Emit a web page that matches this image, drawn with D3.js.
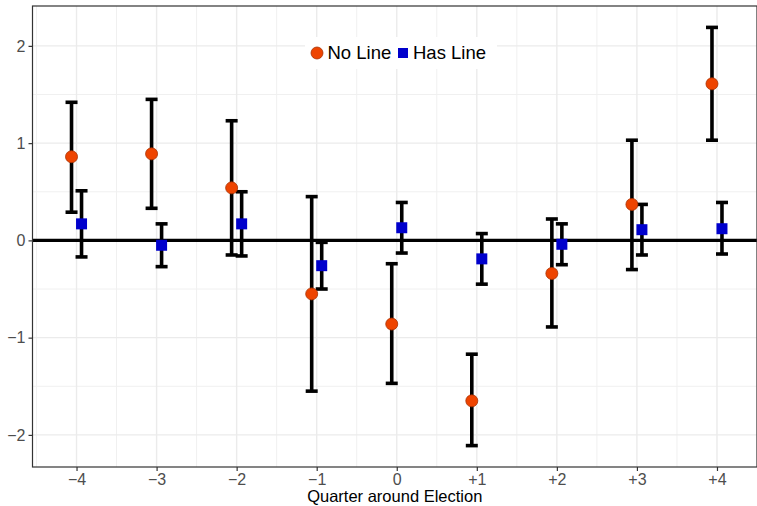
<!DOCTYPE html>
<html>
<head>
<meta charset="utf-8">
<script src="https://cdn.jsdelivr.net/npm/d3@7"></script>
<style>
  body { margin: 0; background: #fff; }
  text { font-family: "Liberation Sans", Arial, sans-serif; }
</style>
</head>
<body>
<div id="chart"></div>
<script>
// quarters around the election
var quarters = [-4, -3, -2, -1, 0, 1, 2, 3, 4];
var quarterLabels = ["\u22124", "\u22123", "\u22122", "\u22121", "0", "+1", "+2", "+3", "+4"];

// "No Line" estimates with interval
var noLineEst   = [0.86, 0.89, 0.54, -0.55, -0.86, -1.65, -0.34, 0.37, 1.61];
var noLineLow   = [0.29, 0.33, -0.15, -1.55, -1.47, -2.11, -0.89, -0.30, 1.03];
var noLineHigh  = [1.42, 1.45, 1.23, 0.45, -0.24, -1.17, 0.22, 1.03, 2.19];

// "Has Line" estimates with interval
var hasLineEst  = [0.17, -0.05, 0.17, -0.26, 0.13, -0.19, -0.04, 0.11, 0.12];
var hasLineLow  = [-0.17, -0.27, -0.16, -0.50, -0.13, -0.45, -0.25, -0.15, -0.14];
var hasLineHigh = [0.51, 0.17, 0.50, -0.02, 0.39, 0.07, 0.17, 0.37, 0.39];

var yTicks = [-2, -1, 0, 1, 2];
var yLabels = ["\u22122", "\u22121", "0", "1", "2"];

var W = 757, H = 506;
var margin = {top: 6, right: 0, bottom: 39, left: 32.5};
var width = W - margin.left - margin.right,
    height = H - margin.top - margin.bottom;

var svg = d3.select("#chart").append("svg")
    .attr("width", W)
    .attr("height", H);

var g = svg.append("g")
    .attr("transform", "translate(" + margin.left + "," + margin.top + ")");

var x = d3.scaleLinear().domain([-4.55, 4.5]).range([0, width]);
var y = d3.scaleLinear().domain([-2.33, 2.41]).range([height, 0]);

var dodge = 0.0625;

// grid, minor first
var minorX = d3.range(-4.5, 4.51, 1);
var minorY = d3.range(-2.5, 2.51, 1).filter(function(v) { return v > -2.33 && v < 2.41; });

g.selectAll(".minor-x").data(minorX).enter().append("line")
    .attr("x1", function(d) { return x(d); }).attr("x2", function(d) { return x(d); })
    .attr("y1", 0).attr("y2", height)
    .attr("stroke", "#f0f0f0").attr("stroke-width", 1);
g.selectAll(".minor-y").data(minorY).enter().append("line")
    .attr("y1", function(d) { return y(d); }).attr("y2", function(d) { return y(d); })
    .attr("x1", 0).attr("x2", width)
    .attr("stroke", "#f0f0f0").attr("stroke-width", 1);
g.selectAll(".major-x").data(quarters).enter().append("line")
    .attr("x1", function(d) { return x(d); }).attr("x2", function(d) { return x(d); })
    .attr("y1", 0).attr("y2", height)
    .attr("stroke", "#ebebeb").attr("stroke-width", 1.4);
g.selectAll(".major-y").data(yTicks).enter().append("line")
    .attr("y1", function(d) { return y(d); }).attr("y2", function(d) { return y(d); })
    .attr("x1", 0).attr("x2", width)
    .attr("stroke", "#ebebeb").attr("stroke-width", 1.4);

// zero line
g.append("line")
    .attr("x1", 0).attr("x2", width)
    .attr("y1", y(0)).attr("y2", y(0))
    .attr("stroke", "#000").attr("stroke-width", 3.2);

// error bars
function errorBars(cls, est, low, high, off) {
  var data = quarters.map(function(q, i) {
    return {q: q + off, est: est[i], low: low[i], high: high[i]};
  });
  var eb = g.selectAll("." + cls).data(data).enter().append("g").attr("class", cls);
  eb.append("line")
      .attr("x1", function(d) { return x(d.q); }).attr("x2", function(d) { return x(d.q); })
      .attr("y1", function(d) { return y(d.low); }).attr("y2", function(d) { return y(d.high); })
      .attr("stroke", "#000").attr("stroke-width", 3.6);
  ["low", "high"].forEach(function(k) {
    eb.append("line")
        .attr("x1", function(d) { return x(d.q) - 6; }).attr("x2", function(d) { return x(d.q) + 6; })
        .attr("y1", function(d) { return y(d[k]); }).attr("y2", function(d) { return y(d[k]); })
        .attr("stroke", "#000").attr("stroke-width", 3.6);
  });
  return data;
}

var noData = errorBars("eb-no", noLineEst, noLineLow, noLineHigh, -dodge);
var hasData = errorBars("eb-has", hasLineEst, hasLineLow, hasLineHigh, dodge);

g.selectAll(".pt-no").data(noData).enter().append("circle")
    .attr("cx", function(d) { return x(d.q); })
    .attr("cy", function(d) { return y(d.est); })
    .attr("r", 6)
    .attr("fill", "#ee4400")
    .attr("stroke", "#a83000")
    .attr("stroke-width", 0.8);

g.selectAll(".pt-has").data(hasData).enter().append("rect")
    .attr("x", function(d) { return x(d.q) - 5.5; })
    .attr("y", function(d) { return y(d.est) - 5.5; })
    .attr("width", 11).attr("height", 11)
    .attr("fill", "#0000cc");

// panel border
g.append("rect")
    .attr("x", 0).attr("y", 0)
    .attr("width", width).attr("height", height)
    .attr("fill", "none")
    .attr("stroke", "#333").attr("stroke-width", 1.2);

// axes
var xAxis = g.append("g")
    .attr("transform", "translate(0," + height + ")")
    .call(d3.axisBottom(x).tickValues(quarters).tickSize(4).tickPadding(3)
      .tickFormat(function(d, i) { return quarterLabels[i]; }));
var yAxis = g.append("g")
    .call(d3.axisLeft(y).tickValues(yTicks).tickSize(4).tickPadding(3)
      .tickFormat(function(d, i) { return yLabels[i]; }));
[xAxis, yAxis].forEach(function(a) {
  a.select(".domain").remove();
  a.selectAll(".tick line").attr("stroke", "#333").attr("stroke-width", 1.2);
  a.selectAll(".tick text").attr("fill", "#4d4d4d").style("font-size", "16px")
    .style("font-family", "Liberation Sans, Arial, sans-serif");
});

svg.append("text")
    .attr("x", margin.left + width / 2)
    .attr("y", 502)
    .attr("text-anchor", "middle")
    .style("font-size", "16.5px")
    .attr("fill", "#000")
    .text("Quarter around Election");

// legend
var legend = svg.append("g");
legend.append("rect")
    .attr("x", 305).attr("y", 37).attr("width", 192).attr("height", 32)
    .attr("fill", "#fff");
legend.append("circle")
    .attr("cx", 317).attr("cy", 53).attr("r", 6)
    .attr("fill", "#ee4400").attr("stroke", "#a83000").attr("stroke-width", 0.8);
legend.append("text")
    .attr("x", 327.5).attr("y", 58.5)
    .style("font-size", "18.5px")
    .text("No Line");
legend.append("rect")
    .attr("x", 398).attr("y", 48).attr("width", 10).attr("height", 10)
    .attr("fill", "#0000cc");
legend.append("text")
    .attr("x", 413).attr("y", 58.5)
    .style("font-size", "18.5px")
    .text("Has Line");
</script>
</body>
</html>
